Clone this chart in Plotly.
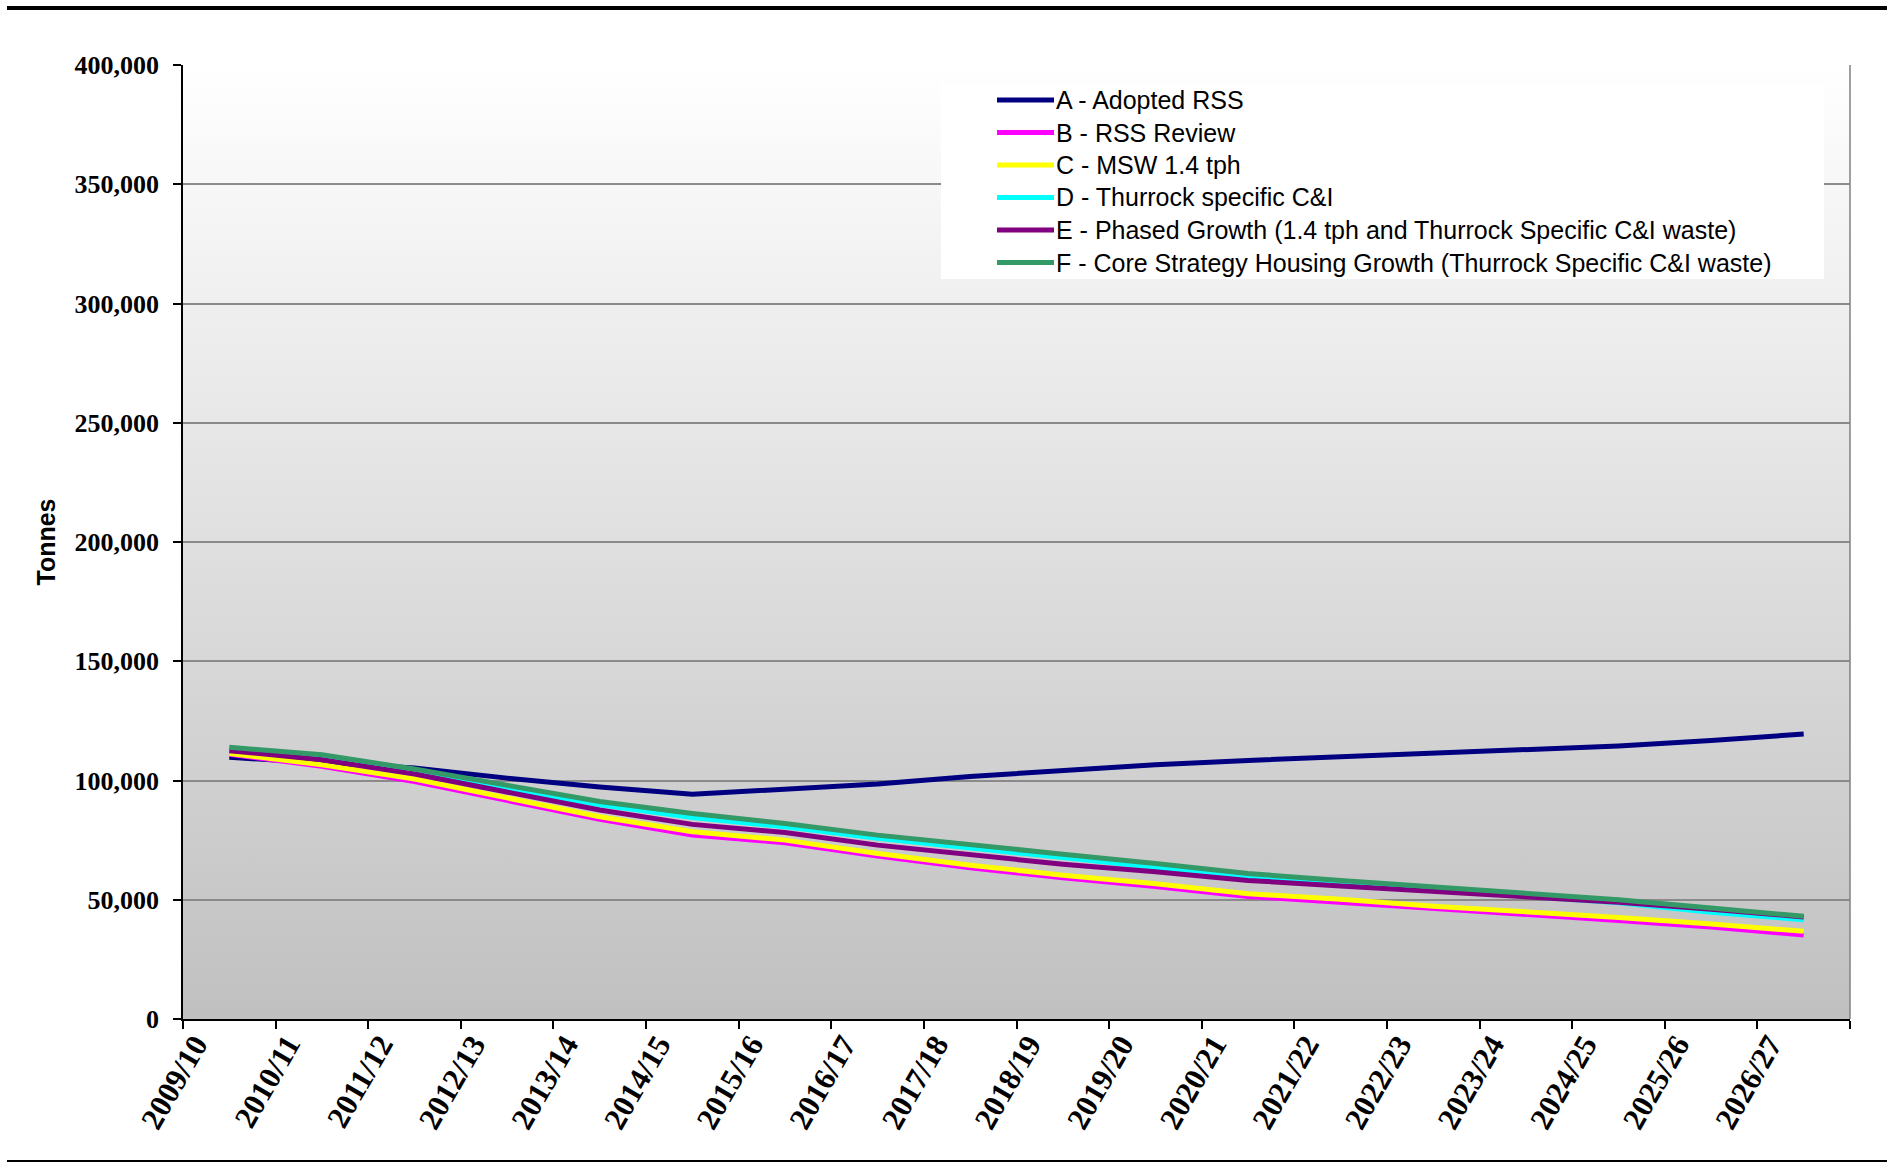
import base64
import plotly.graph_objects as go

# Financial years on the category axis
categories = [
    "2009/10", "2010/11", "2011/12", "2012/13", "2013/14", "2014/15",
    "2015/16", "2016/17", "2017/18", "2018/19", "2019/20", "2020/21",
    "2021/22", "2022/23", "2023/24", "2024/25", "2025/26", "2026/27",
]

# Projected tonnage per scenario (thousand tonnes)
adopted_rss = [109.7, 107.7, 105.2, 101.0, 97.3, 94.2, 96.5, 98.5, 101.7,
               104.1, 106.6, 108.4, 110.0, 111.5, 112.8, 114.5, 116.8, 119.5]
rss_review = [111.0, 106.0, 99.6, 91.4, 83.7, 77.1, 73.9, 68.3, 63.4,
              59.2, 55.6, 51.4, 49.0, 46.2, 43.7, 41.3, 38.6, 35.2]
msw_14_tph = [111.3, 106.6, 100.6, 92.6, 84.8, 78.5, 75.0, 69.4, 64.5,
              60.3, 56.7, 52.5, 50.2, 47.3, 45.0, 42.6, 39.8, 36.8]
thurrock_ci = [113.5, 110.0, 103.5, 96.7, 89.8, 84.5, 80.6, 75.8, 71.5,
               67.7, 63.5, 59.7, 57.0, 54.3, 51.8, 48.7, 44.8, 41.6]
phased_growth = [112.5, 108.7, 102.7, 95.0, 87.6, 81.6, 78.2, 72.9, 68.7,
                 64.9, 61.7, 58.1, 55.8, 53.5, 51.5, 49.0, 46.0, 42.8]
core_strategy = [113.9, 110.8, 104.8, 97.9, 91.2, 86.2, 82.0, 77.1, 72.9,
                 69.1, 65.2, 61.0, 58.1, 55.3, 52.9, 50.0, 46.5, 43.1]

series_names = [
    "A - Adopted RSS",
    "B - RSS Review",
    "C - MSW 1.4 tph",
    "D - Thurrock specific C&I",
    "E - Phased Growth (1.4 tph and Thurrock Specific C&I waste)",
    "F - Core Strategy Housing Growth (Thurrock Specific C&I waste)",
]
series_values = [adopted_rss, rss_review, msw_14_tph, thurrock_ci,
                 phased_growth, core_strategy]
series_colors = ["#000080", "#FF00FF", "#FFFF00", "#00FFFF", "#800080", "#339966"]

W, H = 1887, 1163
ML, MR, MT, MB = 183, 37, 65, 144
PW, PH = W - ML - MR, H - MT - MB

fig = go.Figure()
for name, vals, col in zip(series_names, series_values, series_colors):
    fig.add_trace(go.Scatter(
        x=categories,
        y=[v * 1000 for v in vals],
        mode="lines",
        name=name,
        line=dict(color=col, width=5),
        showlegend=False,
    ))

# Vertical white-to-grey wash behind the plot area
svg = (
    '<svg xmlns="http://www.w3.org/2000/svg" width="100" height="100" '
    'preserveAspectRatio="none"><defs><linearGradient id="g" x1="0" y1="0" '
    'x2="0" y2="1"><stop offset="0" stop-color="#ffffff"/>'
    '<stop offset="1" stop-color="#c0c0c0"/></linearGradient></defs>'
    '<rect width="100" height="100" fill="url(#g)"/></svg>'
)
svg_uri = "data:image/svg+xml;base64," + base64.b64encode(svg.encode()).decode()


def px_x(p):
    return (p - ML) / PW


def px_y(p):
    return (H - MB - p) / PH


serif = "Liberation Serif, Times New Roman, serif"
sans = "Liberation Sans, Arial, sans-serif"

# Key panel: white box, one line sample and label per series
shapes = [
    dict(type="rect", xref="paper", yref="paper",
         x0=px_x(941), x1=px_x(1824), y0=px_y(279), y1=px_y(84),
         fillcolor="white", line=dict(width=0), layer="above"),
]
annotations = []
KEY_TOP, KEY_STEP = 100, 32.5
for i, (name, col) in enumerate(zip(series_names, series_colors)):
    yk = px_y(KEY_TOP + KEY_STEP * i)
    shapes.append(dict(type="line", xref="paper", yref="paper",
                       x0=px_x(997), x1=px_x(1054), y0=yk, y1=yk,
                       line=dict(color=col, width=5), layer="above"))
    annotations.append(dict(text=name, xref="paper", yref="paper",
                            x=px_x(1054), y=yk, xanchor="left",
                            yanchor="middle", showarrow=False,
                            font=dict(family=sans, size=25, color="black")))

shapes += [
    # right edge of the plot area
    dict(type="line", xref="paper", yref="paper", x0=1, x1=1, y0=0, y1=1,
         line=dict(color="#808080", width=1.5), layer="above"),
    # page rules above and below the chart
    dict(type="line", xref="paper", yref="paper",
         x0=px_x(7), x1=px_x(W), y0=px_y(8), y1=px_y(8),
         line=dict(color="black", width=4)),
    dict(type="line", xref="paper", yref="paper",
         x0=px_x(7), x1=px_x(W), y0=px_y(1161), y1=px_y(1161),
         line=dict(color="black", width=2)),
]

fig.update_layout(
    width=W, height=H,
    margin=dict(l=ML, r=MR, t=MT, b=MB, pad=0),
    paper_bgcolor="white",
    plot_bgcolor="rgba(0,0,0,0)",
    images=[dict(source=svg_uri, xref="paper", yref="paper", x=0, y=1,
                 sizex=1, sizey=1, xanchor="left", yanchor="top",
                 sizing="stretch", layer="below")],
    showlegend=False,
    xaxis=dict(
        type="category",
        categoryorder="array", categoryarray=categories,
        range=[-0.5, len(categories) - 0.5],
        tickson="boundaries",
        ticks="outside", ticklen=8, tickwidth=1.5, tickcolor="black",
        showline=True, linecolor="black", linewidth=2,
        showgrid=False, zeroline=False,
        tickangle=-60,
        tickfont=dict(family=serif, size=31, color="black", weight="bold"),
        ticklabelshift=-34,
        ticklabelstandoff=-7,
    ),
    yaxis=dict(
        range=[0, 400000], dtick=50000, tickformat=",",
        ticks="outside", ticklen=8, tickwidth=1.5, tickcolor="black",
        showline=True, linecolor="black", linewidth=1.5,
        showgrid=True, gridcolor="#8a8a8a", gridwidth=1.5,
        zeroline=False,
        tickfont=dict(family=serif, size=26, color="black", weight="bold"),
        ticklabelstandoff=9,
        title=dict(text="Tonnes", standoff=12,
                   font=dict(family=sans, size=25, color="black",
                             weight="bold")),
    ),
    shapes=shapes,
    annotations=annotations,
)

fig.write_html("out.html")
